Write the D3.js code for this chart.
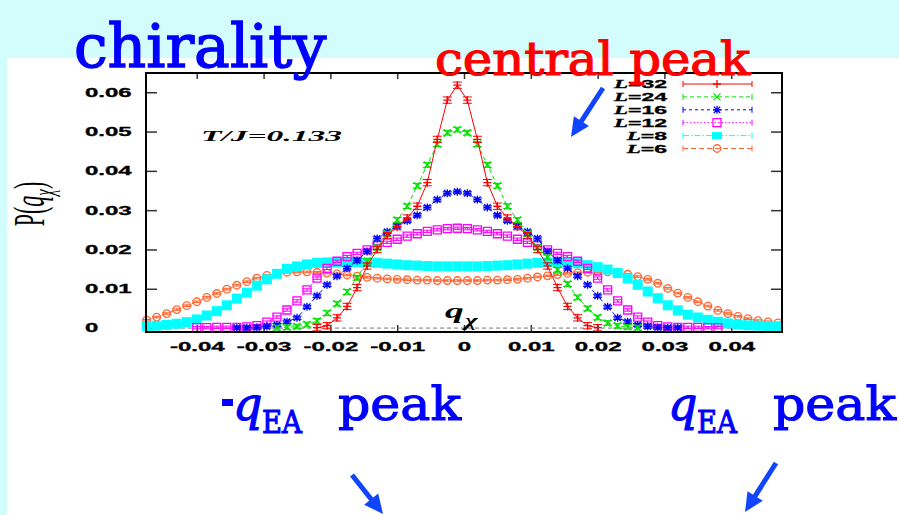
<!DOCTYPE html>
<html>
<head>
<meta charset="utf-8">
<script src="https://cdn.jsdelivr.net/npm/d3@7"></script>
<style>
body { margin: 0; background: #d3fcfc; }
svg { display: block; }
</style>
</head>
<body>
<svg id="chart" width="899" height="515"></svg>
<script>
// bins of the chiral overlap
var qValues = [-0.0475, -0.046, -0.0445, -0.043, -0.0415, -0.04, -0.0385, -0.037, -0.0355, -0.034,
               -0.0325, -0.031, -0.0295, -0.028, -0.0265, -0.025, -0.0235, -0.022, -0.0205, -0.019,
               -0.0175, -0.016, -0.0145, -0.013, -0.0115, -0.01, -0.0085, -0.007, -0.0055, -0.004,
               -0.0025, -0.001, 0.0005, 0.002, 0.0035, 0.005, 0.0065, 0.008, 0.0095, 0.011,
               0.0125, 0.014, 0.0155, 0.017, 0.0185, 0.02, 0.0215, 0.023, 0.0245, 0.026,
               0.0275, 0.029, 0.0305, 0.032, 0.0335, 0.035, 0.0365, 0.038, 0.0395, 0.041,
               0.0425, 0.044, 0.0455, 0.047];

var sizeLabels = ['L=32', 'L=24', 'L=16', 'L=12', 'L=8', 'L=6'];

var p32 = [0, 0, 0, 0, 0, 0, 0, 0, 0, 0, 0, 0, 0, 0, 0, 0, 0,
           0.0001, 0.0006, 0.0026, 0.0055, 0.0103, 0.0158, 0.020, 0.0235, 0.0258, 0.028, 0.031, 0.037, 0.048, 0.058,
           0.0618,
           0.058, 0.048, 0.037, 0.031, 0.028, 0.0258, 0.0235, 0.020, 0.0158, 0.0103, 0.0055, 0.0026, 0.0006, 0.0001,
           0, 0, 0, 0, 0, 0, 0, 0, 0, 0, 0, 0, 0, 0, 0, 0, 0, 0];

var p24 = [0, 0, 0, 0, 0, 0, 0, 0, 0, 0, 0, 0, 0,
           0.0001, 0.0002, 0.0004, 0.0009, 0.0018, 0.0038, 0.0062, 0.0092, 0.0128, 0.017, 0.0205, 0.024, 0.0275, 0.031, 0.0362, 0.0415, 0.0468, 0.0497,
           0.0505,
           0.0497, 0.0468, 0.0415, 0.0362, 0.031, 0.0275, 0.024, 0.0205, 0.018, 0.0148, 0.0112, 0.0078, 0.005, 0.0027, 0.0013, 0.0006, 0.0003, 0.0001,
           0, 0, 0, 0, 0, 0, 0, 0, 0, 0, 0, 0, 0, 0];

var p16 = [0, 0, 0, 0, 0, 0, 0, 0, 0,
           0.0001, 0.0001, 0.0002, 0.0004, 0.0008, 0.0016, 0.0026, 0.0054, 0.0082, 0.011, 0.0132, 0.0152, 0.0172, 0.0195, 0.0228, 0.0245, 0.0259, 0.0273, 0.0287, 0.0307, 0.0327, 0.0343,
           0.0347,
           0.0343, 0.0327, 0.0307, 0.0287, 0.0273, 0.0259, 0.0245, 0.0228, 0.0195, 0.0172, 0.0152, 0.0132, 0.011, 0.0082, 0.0054, 0.0026, 0.0016, 0.0008, 0.0004, 0.0002, 0.0001, 0.0001,
           0, 0, 0, 0, 0, 0, 0, 0, 0, 0];

var p12 = [0, 0, 0, 0, 0,
           0.0001, 0.0001, 0.0002, 0.0002, 0.0002, 0.0003, 0.0006, 0.0015, 0.0028, 0.0046, 0.0069, 0.0097, 0.0127, 0.0152, 0.017, 0.0182, 0.019, 0.0199, 0.021, 0.0218, 0.0226, 0.0234, 0.024, 0.0246, 0.025, 0.0253,
           0.0254,
           0.0253, 0.025, 0.0246, 0.024, 0.0234, 0.0226, 0.0218, 0.021, 0.0199, 0.019, 0.0182, 0.017, 0.0152, 0.0127, 0.0097, 0.0069, 0.0046, 0.0028, 0.0015, 0.0006, 0.0003, 0.0002, 0.0002, 0.0002, 0.0001, 0.0001,
           0, 0, 0, 0, 0, 0];

var p8 = [0.0005, 0.0006, 0.0008, 0.0011, 0.0015, 0.0022, 0.0032, 0.0043, 0.0058, 0.0075, 0.009, 0.0108, 0.0124, 0.0138, 0.0151, 0.0157,
          0.0162, 0.0166, 0.0167, 0.0168, 0.0168, 0.0168, 0.0167, 0.0166, 0.0164, 0.0162, 0.016, 0.0159, 0.0158, 0.0157, 0.0157,
          0.0157,
          0.0157, 0.0157, 0.0158, 0.0159, 0.016, 0.0162, 0.0164, 0.0166, 0.0167, 0.0167, 0.0167, 0.0165, 0.016, 0.0155, 0.0149, 0.014,
          0.0126, 0.011, 0.0093, 0.0076, 0.0058, 0.0045, 0.0034, 0.0027, 0.0021, 0.0016, 0.0012, 0.0009, 0.0007, 0.0006, 0.0005, 0.0004];

var p6 = [0.002, 0.0028, 0.0037, 0.0047, 0.0057, 0.0067, 0.0078, 0.0088, 0.0099, 0.0109, 0.0118, 0.0127, 0.0134, 0.0139, 0.0142, 0.0143,
          0.0143, 0.0142, 0.014, 0.0138, 0.0135, 0.0132, 0.0129, 0.0127, 0.0125, 0.0124, 0.0123, 0.0122, 0.0122, 0.0121, 0.0121,
          0.0121,
          0.0121, 0.0121, 0.0122, 0.0122, 0.0123, 0.0124, 0.0127, 0.013, 0.0133, 0.0136, 0.0139, 0.0141, 0.0142, 0.0143, 0.0143, 0.0142,
          0.0137, 0.0131, 0.0124, 0.0114, 0.0101, 0.0089, 0.0078, 0.0067, 0.0056, 0.0045, 0.0037, 0.003, 0.0024, 0.0019, 0.0016, 0.0013];

// half height of the error bars, one per size
var errorBars = [0.0008, 0.0006, 0.0004, 0.0003, 0.0002, 0.0002];

var xTicks = [-0.04, -0.03, -0.02, -0.01, 0, 0.01, 0.02, 0.03, 0.04];
var xTickLabels = ['-0.04', '-0.03', '-0.02', '-0.01', '0', '0.01', '0.02', '0.03', '0.04'];
var yTicks = [0, 0.01, 0.02, 0.03, 0.04, 0.05, 0.06];
var yTickLabels = ['0', '0.01', '0.02', '0.03', '0.04', '0.05', '0.06'];

var series = [p32, p24, p16, p12, p8, p6];

var styles = [
  {color: '#ff0000', dash: null,        symbol: 'plus',    size: 8},
  {color: '#00e000', dash: '4,3',       symbol: 'cross',   size: 7},
  {color: '#0000ff', dash: '3,3',       symbol: 'star',    size: 8},
  {color: '#ff00ff', dash: '1.5,2',     symbol: 'square',  size: 8},
  {color: '#00ffff', dash: '6,2,1.5,2', symbol: 'fsquare', size: 10},
  {color: '#ff6633', dash: '5,3',       symbol: 'circle',  size: 7.5}
];

var blue = '#0000ff';
var arrowBlue = '#1144ff';

var svg = d3.select('#chart');

svg.append('rect')
   .attr('x', 0).attr('y', 0)
   .attr('width', 899).attr('height', 515)
   .attr('fill', '#d3fcfc');

svg.append('rect')
   .attr('x', 7).attr('y', 58)
   .attr('width', 892).attr('height', 457)
   .attr('fill', '#ffffff');

var plot = {left: 146, right: 782, top: 73, bottom: 332};

var x = d3.scaleLinear().domain([-0.0476, 0.0476]).range([plot.left, plot.right]);
var y = d3.scaleLinear().domain([-0.001, 0.0649]).range([plot.bottom, plot.top]);

var tickFont = '"Liberation Sans", Arial, sans-serif';

// axes, ticks pointing inward
var gx = svg.append('g')
            .attr('transform', 'translate(0,' + plot.bottom + ')')
            .call(d3.axisBottom(x).tickValues(xTicks).tickSize(-7)
                  .tickFormat(function(d, i) { return xTickLabels[i]; }));
var gxTop = svg.append('g')
               .attr('transform', 'translate(0,' + plot.top + ')')
               .call(d3.axisTop(x).tickValues(xTicks).tickSize(-6).tickFormat(''));
var gy = svg.append('g')
            .attr('transform', 'translate(' + plot.left + ',0)')
            .call(d3.axisLeft(y).tickValues(yTicks).tickSize(-11)
                  .tickFormat(function(d, i) { return yTickLabels[i]; }));
var gyRight = svg.append('g')
                 .attr('transform', 'translate(' + plot.right + ',0)')
                 .call(d3.axisRight(y).tickValues(yTicks).tickSize(-11).tickFormat(''));

[gx, gxTop, gy, gyRight].forEach(function(g) {
  g.select('.domain').remove();
  g.selectAll('line').attr('stroke', '#333').attr('stroke-width', 1.5);
  g.selectAll('text').attr('fill', '#000');
});

gx.selectAll('text')
  .attr('y', 0).attr('dy', null)
  .attr('transform', 'translate(0,19) scale(2,1)')
  .attr('stroke', '#000').attr('stroke-width', 0.3)
  .style('font-family', tickFont)
  .style('font-weight', 'bold')
  .style('font-size', '12px');

gy.selectAll('text')
  .attr('x', 0)
  .attr('text-anchor', 'start')
  .attr('transform', 'translate(-61,0) scale(2,1)')
  .attr('stroke', '#000').attr('stroke-width', 0.3)
  .style('font-family', tickFont)
  .style('font-weight', 'bold')
  .style('font-size', '12px');

// zero line
svg.append('line')
   .attr('x1', plot.left).attr('x2', plot.right)
   .attr('y1', y(0)).attr('y2', y(0))
   .attr('stroke', '#777')
   .attr('stroke-width', 1)
   .attr('stroke-dasharray', '4,3');

function symbolPath(type, s) {
  var h = s / 2;
  if (type === 'plus') return 'M' + (-h) + ',0H' + h + 'M0,' + (-h) + 'V' + h;
  if (type === 'cross') return 'M' + (-h) + ',' + (-h) + 'L' + h + ',' + h + 'M' + (-h) + ',' + h + 'L' + h + ',' + (-h);
  if (type === 'star') return symbolPath('plus', s) + symbolPath('cross', s * 0.8);
  if (type === 'square' || type === 'fsquare') return 'M' + (-h) + ',' + (-h) + 'H' + h + 'V' + h + 'H' + (-h) + 'Z';
  if (type === 'circle') return 'M' + (-h) + ',0A' + h + ',' + h + ' 0 1,0 ' + h + ',0A' + h + ',' + h + ' 0 1,0 ' + (-h) + ',0Z';
  return '';
}

var line = d3.line()
             .x(function(d) { return x(d.q); })
             .y(function(d) { return y(d.p); });

// smaller systems first so the sharp peaks sit on top
for (var s = series.length - 1; s >= 0; s--) {
  var st = styles[s];
  var err = errorBars[s];
  var pts = qValues.map(function(q, i) { return {q: q, p: series[s][i]}; })
                   .filter(function(d) { return d.p > 0; });
  var g = svg.append('g').attr('class', 'series-' + s);

  g.append('path')
   .datum(pts)
   .attr('d', line)
   .attr('fill', 'none')
   .attr('stroke', st.color)
   .attr('stroke-width', 1)
   .attr('stroke-dasharray', st.dash);

  g.selectAll('.err').data(pts).enter().append('path')
   .attr('class', 'err')
   .attr('d', function(d) {
     var y1 = y(d.p - err), y2 = y(d.p + err), cx = x(d.q);
     return 'M' + cx + ',' + y1 + 'V' + y2 +
            'M' + (cx - 4.5) + ',' + y1 + 'H' + (cx + 4.5) +
            'M' + (cx - 4.5) + ',' + y2 + 'H' + (cx + 4.5);
   })
   .attr('fill', 'none')
   .attr('stroke', st.color)
   .attr('stroke-width', 1);

  g.selectAll('.mark').data(pts).enter().append('path')
   .attr('class', 'mark')
   .attr('transform', function(d) { return 'translate(' + x(d.q) + ',' + y(d.p) + ')'; })
   .attr('d', symbolPath(st.symbol, st.size))
   .attr('fill', st.symbol === 'fsquare' ? st.color : 'none')
   .attr('stroke', st.color)
   .attr('stroke-width', st.symbol === 'fsquare' ? 0 : 1.3);
}

// frame
svg.append('rect')
   .attr('x', plot.left).attr('y', plot.top)
   .attr('width', plot.right - plot.left)
   .attr('height', plot.bottom - plot.top)
   .attr('fill', 'none')
   .attr('stroke', '#000')
   .attr('stroke-width', 2);

// legend
var legendTop = 84, legendStep = 12.9;
var legend = svg.append('g').attr('class', 'legend');
sizeLabels.forEach(function(lab, i) {
  var st = styles[i];
  var ly = legendTop + i * legendStep;
  var t = legend.append('text')
                .attr('text-anchor', 'end')
                .attr('transform', 'translate(667,' + (ly + 4) + ') scale(2,1)')
                .attr('stroke', '#000').attr('stroke-width', 0.3)
                .style('font-family', tickFont)
                .style('font-weight', 'bold')
                .style('font-size', '11.5px');
  t.append('tspan').text('L').style('font-style', 'italic').style('font-family', '"Liberation Serif", serif');
  t.append('tspan').text(lab.slice(1));

  legend.append('line')
        .attr('x1', 683).attr('x2', 752)
        .attr('y1', ly).attr('y2', ly)
        .attr('stroke', st.color)
        .attr('stroke-width', 1)
        .attr('stroke-dasharray', st.dash);
  legend.append('path')
        .attr('d', 'M683,' + (ly - 3) + 'V' + (ly + 3) + 'M752,' + (ly - 3) + 'V' + (ly + 3))
        .attr('stroke', st.color)
        .attr('stroke-width', 1);
  legend.append('path')
        .attr('transform', 'translate(717,' + ly + ')' + (st.symbol === 'fsquare' ? ' scale(1,0.7)' : ''))
        .attr('d', symbolPath(st.symbol, st.size))
        .attr('fill', st.symbol === 'fsquare' ? st.color : 'none')
        .attr('stroke', st.color)
        .attr('stroke-width', st.symbol === 'fsquare' ? 0 : 1.3);
});

// temperature label
svg.append('text')
   .attr('x', 201).attr('y', 141)
   .attr('textLength', 141)
   .attr('lengthAdjust', 'spacingAndGlyphs')
   .style('font-family', '"Liberation Serif", serif')
   .style('font-weight', 'bold')
   .style('font-style', 'italic')
   .style('font-size', '14px')
   .text('T/J=0.133');

// x label q_chi
svg.append('text')
   .attr('transform', 'translate(445,318) scale(1.7,1)')
   .style('font-family', '"Liberation Serif", serif')
   .style('font-weight', 'bold')
   .style('font-style', 'italic')
   .style('font-size', '22px')
   .text('q');
svg.append('text')
   .attr('transform', 'translate(465,326) scale(1.7,1)')
   .style('font-family', '"Liberation Serif", serif')
   .style('font-weight', 'bold')
   .style('font-style', 'italic')
   .style('font-size', '16px')
   .text('χ');

// y label P(q_chi)
var yl = svg.append('text')
            .attr('text-anchor', 'middle')
            .attr('transform', 'translate(44,204) scale(2,1) rotate(-90)')
            .style('font-family', '"Liberation Serif", serif')
            .style('font-size', '22px');
yl.append('tspan').text('P(');
yl.append('tspan').text('q').style('font-style', 'italic');
yl.append('tspan').text('χ').attr('dy', 5).style('font-size', '15px').style('font-style', 'italic');
yl.append('tspan').text(')').attr('dy', -5);

// titles and annotations
var serif = '"DejaVu Serif", serif';

svg.append('text')
   .attr('x', 74).attr('y', 67)
   .attr('fill', blue)
   .attr('stroke', blue).attr('stroke-width', 1.4)
   .style('font-family', serif)
   .style('font-size', '60px')
   .text('chirality');

svg.append('text')
   .attr('x', 435).attr('y', 75)
   .attr('textLength', 315)
   .attr('lengthAdjust', 'spacingAndGlyphs')
   .attr('fill', '#ff0000')
   .attr('stroke', '#ff0000').attr('stroke-width', 1.2)
   .style('font-family', serif)
   .style('font-size', '46px')
   .text('central peak');

function qeaLabel(x0, withMinus) {
  var g = svg.append('g')
             .attr('fill', blue)
             .attr('stroke', blue).attr('stroke-width', 1.1)
             .style('font-family', serif);
  var qx = x0;
  if (withMinus) {
    g.append('rect').attr('x', x0).attr('y', 399).attr('width', 11).attr('height', 7).attr('stroke', 'none');
    qx = x0 + 11;
  }
  g.append('text').attr('x', qx).attr('y', 420)
   .style('font-size', '46px').style('font-style', 'italic').text('q');
  g.append('text').attr('x', qx + 29).attr('y', 433)
   .attr('textLength', 40).attr('lengthAdjust', 'spacingAndGlyphs')
   .style('font-size', '32px').text('EA');
  g.append('text').attr('x', qx + 105).attr('y', 420)
   .attr('textLength', 123).attr('lengthAdjust', 'spacingAndGlyphs')
   .style('font-size', '46px').text('peak');
}
qeaLabel(222, true);
qeaLabel(668, false);

function arrow(x1, y1, x2, y2) {
  var dx = x2 - x1, dy = y2 - y1, len = Math.sqrt(dx * dx + dy * dy);
  var ux = dx / len, uy = dy / len, head = 19, half = 9;
  var bx = x2 - ux * head, by = y2 - uy * head;
  svg.append('line')
     .attr('x1', x1).attr('y1', y1).attr('x2', bx + ux * 2).attr('y2', by + uy * 2)
     .attr('stroke', arrowBlue).attr('stroke-width', 5);
  svg.append('path')
     .attr('d', 'M' + x2 + ',' + y2 +
                'L' + (bx - uy * half) + ',' + (by + ux * half) +
                'L' + (bx + uy * half) + ',' + (by - ux * half) + 'Z')
     .attr('fill', arrowBlue);
}
arrow(603, 88, 571, 137);
arrow(352, 475, 383, 514);
arrow(776, 463, 745, 512);
</script>
</body>
</html>
